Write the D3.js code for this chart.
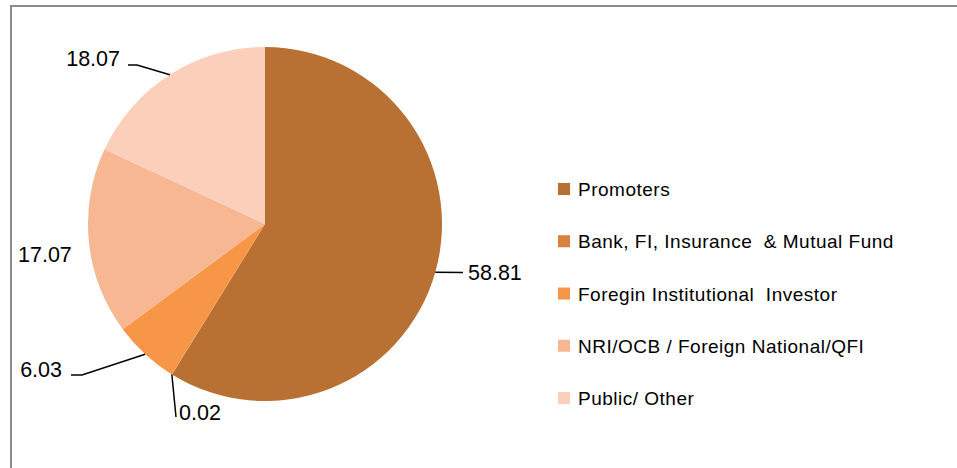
<!DOCTYPE html>
<html><head><meta charset="utf-8">
<script src="https://cdn.jsdelivr.net/npm/d3@7"></script>
<style>
html,body{margin:0;padding:0;background:#fff;}
svg{display:block;}
text{font-family:"Liberation Sans",Arial,sans-serif;fill:#000;}
</style></head>
<body>
<svg id="chart" width="957" height="468"></svg>
<script>
const categories = ["Promoters","Bank, FI, Insurance  & Mutual Fund","Foregin Institutional  Investor","NRI/OCB / Foreign National/QFI","Public/ Other"];
const values = [58.81, 0.02, 6.03, 17.07, 18.07];
const labels = ["58.81","0.02","6.03","17.07","18.07"];
const colors = ["#B87033","#D8823D","#F79646","#F8B793","#FBCFBA"];

const svg = d3.select("#chart");
const W = 957, H = 468;

// frame
svg.append("rect").attr("x",11).attr("y",6).attr("width",W+20).attr("height",H+20)
  .attr("fill","#fff").attr("stroke","#8c8c8c").attr("stroke-width",2);

const cx = 265, cy = 224, r = 177;
const g = svg.append("g").attr("transform",`translate(${cx},${cy})`);

const pie = d3.pie().sort(null).value(d => d)(values);
const arc = d3.arc().innerRadius(0).outerRadius(r);

g.selectAll("path.slice").data(pie).enter().append("path")
  .attr("class","slice")
  .attr("d",arc)
  .attr("fill",(d,i)=>colors[i]);

// label layout: elbow/end offsets relative to center and text anchor placement
const layout = [
  {pts:[[198,48.5]], tx:203, ty:56, anchor:"start"},
  {pts:[[-89,193]], tx:-86, ty:196, anchor:"start"},
  {pts:[[-183,151],[-194,151]], tx:-203, ty:153, anchor:"end"},
  {pts:null, tx:-247, ty:38, anchor:"start"},
  {pts:[[-128,-159],[-137,-159]], tx:-145, ty:-158, anchor:"end"}
];

pie.forEach((d,i)=>{
  const a = (d.startAngle + d.endAngle)/2;
  const ex = Math.sin(a)*r, ey = -Math.cos(a)*r;
  const L = layout[i];
  if (L.pts) {
    const line = [[ex,ey], ...L.pts];
    g.append("path").attr("d", d3.line()(line))
      .attr("fill","none").attr("stroke","#000").attr("stroke-width",1.5);
  }
  g.append("text").attr("x",L.tx).attr("y",L.ty)
    .attr("text-anchor",L.anchor)
    .style("font-size","21.5px")
    .text(labels[i]);
});

// legend
const legY = d3.scalePoint().domain(categories).range([189,398]);
const leg = svg.append("g");
categories.forEach((c,i)=>{
  const y = legY(c);
  leg.append("rect").attr("x",558).attr("y",y-6).attr("width",12).attr("height",12).attr("fill",colors[i]);
  leg.append("text").attr("x",578).attr("y",y+7)
    .style("font-size","19px").style("letter-spacing","0.5px").style("white-space","pre")
    .text(c);
});
</script>
</body></html>
